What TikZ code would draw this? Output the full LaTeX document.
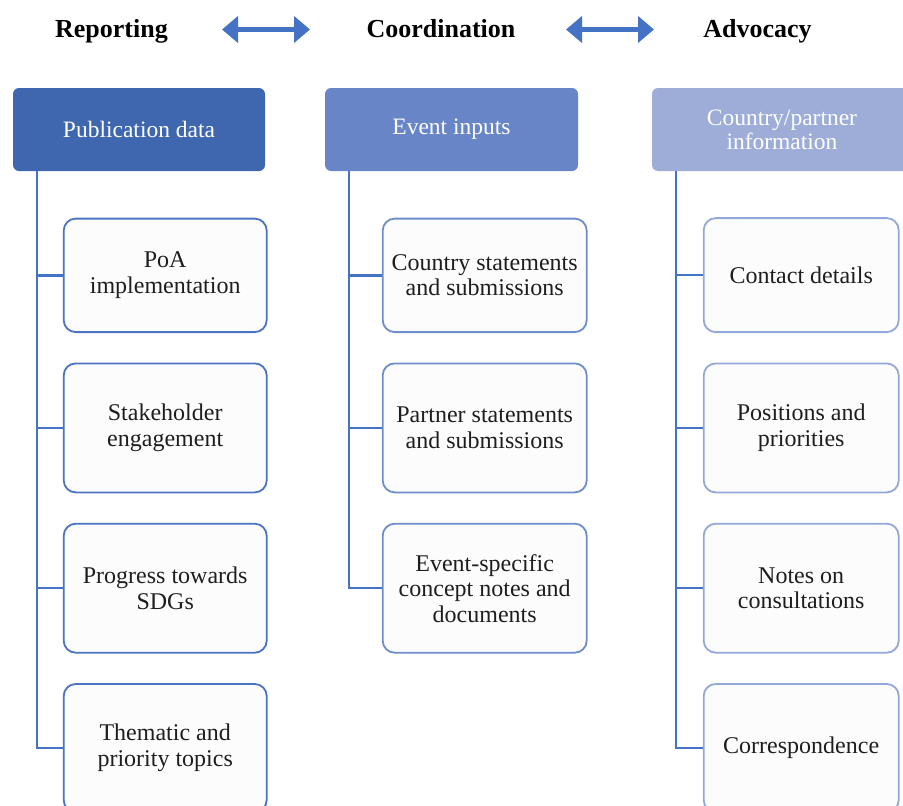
\documentclass[tikz,border=0pt]{standalone}
\usepackage{fontspec}
\setmainfont{Liberation Serif}
\usetikzlibrary{positioning,arrows.meta}
\definecolor{headA}{HTML}{3E67B0}
\definecolor{headB}{HTML}{6886C7}
\definecolor{headC}{HTML}{9DADD8}
\definecolor{rimA}{HTML}{4A73C2}
\definecolor{rimB}{HTML}{6E8DCC}
\definecolor{rimC}{HTML}{93A8DA}
\definecolor{lineblue}{HTML}{4472C4}
\definecolor{boxfill}{HTML}{FCFCFC}
\definecolor{ink}{HTML}{1E1E1E}
\tikzset{
  heading/.style={font=\fontsize{26}{30}\selectfont\bfseries,inner sep=0pt,anchor=base},
  headbox/.style={rounded corners=6pt,text=white,minimum height=83pt,inner sep=0pt,
    align=center,font=\fontsize{23.5}{24}\selectfont},
  itembox/.style={draw,line width=1.8pt,rounded corners=12pt,fill=boxfill,text=ink,
    minimum width=#1,inner sep=0pt,align=center,font=\fontsize{24}{25.5}\selectfont},
  link/.style={draw=lineblue,line width=2.4pt},
  twoway/.style={draw=lineblue,line width=5pt,
    {Triangle[length=16pt,width=26pt]}-{Triangle[length=16pt,width=26pt]}},
}

\begin{document}
\begin{tikzpicture}[x=1pt,y=1pt,node distance=29.5pt]
\useasboundingbox (0,0) rectangle (903,-806);

\node[heading] (rep) at (111.5,-37) {Reporting};
\node[heading] (coord) at (441,-37) {Coordination};
\node[heading] (adv) at (757.5,-37) {Advocacy};
\coordinate (l1) at (222,-29.5);
\coordinate (r1) at (310,-29.5);
\coordinate (l2) at (566,-29.5);
\coordinate (r2) at (654,-29.5);
\draw[twoway] (l1) -- (r1);
\draw[twoway] (l2) -- (r2);

\node[headbox,fill=headA,minimum width=252pt] (pub) at (139,-129.5) {Publication data};
\node[headbox,fill=headB,minimum width=253pt] (evt) at (451.5,-129.5) {Event inputs};
\node[headbox,fill=headC,minimum width=260pt] (info) at (782,-129.5) {Country/partner\\information};

\node[itembox=203pt,draw=rimA,minimum height=113.5pt,anchor=north west,below right=46.5pt and 50pt of pub.south west] (p1) {PoA\\implementation};
\node[itembox=203pt,draw=rimA,minimum height=129pt,below=of p1] (p2) {Stakeholder\\engagement};
\node[itembox=203pt,draw=rimA,minimum height=129pt,below=of p2] (p3) {Progress towards\\SDGs};
\node[itembox=203pt,draw=rimA,minimum height=128pt,below=of p3] (p4) {Thematic and\\priority topics};

\node[itembox=204pt,draw=rimB,minimum height=113.5pt,anchor=north west,below right=46.5pt and 57pt of evt.south west] (e1) {Country statements\\and submissions};
\node[itembox=204pt,draw=rimB,minimum height=129pt,below=of e1] (e2) {Partner statements\\and submissions};
\node[itembox=204pt,draw=rimB,minimum height=129pt,below=of e2] (e3) {Event-specific\\concept notes and\\documents};

\node[itembox=195pt,draw=rimC,minimum height=114pt,anchor=north west,below right=46pt and 51pt of info.south west] (c1) {Contact details};
\node[itembox=195pt,draw=rimC,minimum height=129pt,below=of c1] (c2) {Positions and\\priorities};
\node[itembox=195pt,draw=rimC,minimum height=129pt,below=of c2] (c3) {Notes on\\consultations};
\node[itembox=195pt,draw=rimC,minimum height=128pt,below=of c3] (c4) {Correspondence};

\coordinate (pubroot) at ([xshift=24pt]pub.south west);
\coordinate (evtroot) at ([xshift=24pt]evt.south west);
\coordinate (inforoot) at ([xshift=24pt]info.south west);
\foreach \n in {p1,p2,p3,p4} \draw[link] (pubroot) |- (\n.west);
\foreach \n in {e1,e2,e3} \draw[link] (evtroot) |- (\n.west);
\foreach \n in {c1,c2,c3,c4} \draw[link] (inforoot) |- (\n.west);

\end{tikzpicture}
\end{document}
